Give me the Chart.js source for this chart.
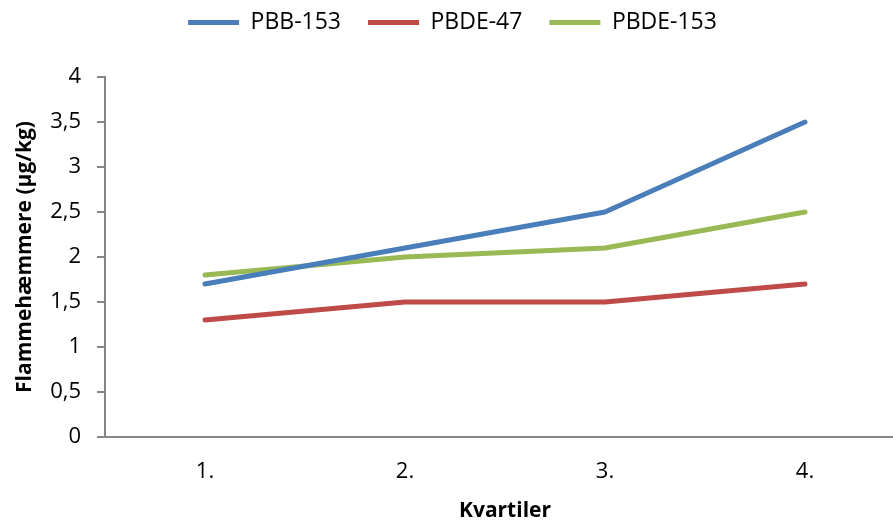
<!DOCTYPE html>
<html lang="da">
  <head>
    <meta charset="utf-8">
    <title>Flammehæmmere</title>
    <script src="https://cdn.jsdelivr.net/npm/chart.js@4.4.1/dist/chart.umd.min.js"></script>
    <style>
      html, body { margin: 0; padding: 0; background: #fff; overflow: hidden; }
      #wrap { width: 911px; height: 525px; position: relative; }
    </style>
  </head>
  <body>
    <div id="wrap"><canvas id="line-chart"></canvas></div>

  <script>
    // data
    var kvartiler = ["1.", "2.", "3.", "4."];
    var pbb153 = [1.7, 2.1, 2.5, 3.5];
    var pbde47 = [1.3, 1.5, 1.5, 1.7];
    var pbde153 = [1.8, 2.0, 2.1, 2.5];
    var seriesNames = ["PBB-153", "PBDE-47", "PBDE-153"];
    var seriesColors = ["#4A7EBB", "#BE4B48", "#98B954"];

    var axisGray = "#868686";
    var font = "'Open Sans', 'DejaVu Sans', sans-serif";

    function mkset(i, values) {
      return {
        label: seriesNames[i],
        data: values,
        borderColor: seriesColors[i],
        backgroundColor: seriesColors[i],
        borderWidth: 5,
        borderCapStyle: 'round',
        borderJoinStyle: 'round',
        pointRadius: 0,
        pointHoverRadius: 0,
        tension: 0,
        fill: false
      };
    }

    new Chart(document.getElementById("line-chart"), {
      type: 'line',
      data: {
        labels: kvartiler,
        datasets: [mkset(0, pbb153), mkset(1, pbde47), mkset(2, pbde153)]
      },
      options: {
        responsive: true,
        maintainAspectRatio: false,
        animation: false,
        // negative top so the legend padding (which also spaces the items) doesn't push it down
        layout: { padding: { top: -16, right: 6, bottom: 1, left: 0 } },
        plugins: {
          legend: {
            position: 'top',
            labels: {
              usePointStyle: true,
              pointStyle: 'line',
              pointStyleWidth: 51,
              boxHeight: 5,
              padding: 27,
              color: '#000',
              font: { family: font, size: 23 }
            }
          },
          // empty spacer between legend and plot
          subtitle: {
            display: true,
            text: ' ',
            weight: 500,
            font: { size: 10 },
            padding: { top: 0, bottom: 21 }
          },
          tooltip: { enabled: false }
        },
        scales: {
          x: {
            offset: true,
            grid: { display: false, drawTicks: false },
            border: { display: true, color: axisGray, width: 2 },
            ticks: { color: '#000', padding: 22, font: { family: font, size: 22 } },
            title: {
              display: true,
              text: 'Kvartiler',
              color: '#000',
              padding: { top: 2, bottom: 0 },
              font: { family: font, size: 21, weight: 'bold' }
            },
            afterFit: function(scale) { scale.height = 87; }
          },
          y: {
            min: 0,
            max: 4,
            ticks: {
              stepSize: 0.5,
              color: '#000',
              padding: 16,
              font: { family: font, size: 22 },
              callback: function(v) { return String(v).replace('.', ','); }
            },
            grid: { drawOnChartArea: false, drawTicks: true, tickLength: 8, color: axisGray, lineWidth: 2 },
            border: { display: true, color: axisGray, width: 2 },
            title: {
              display: true,
              text: 'Flammehæmmere (µg/kg)',
              color: '#000',
              padding: { top: 12, bottom: 0 },
              font: { family: font, size: 21, weight: 'bold' }
            },
            afterFit: function(scale) { scale.width = 105; }
          }
        }
      }
    });
  </script>
  </body>
</html>
